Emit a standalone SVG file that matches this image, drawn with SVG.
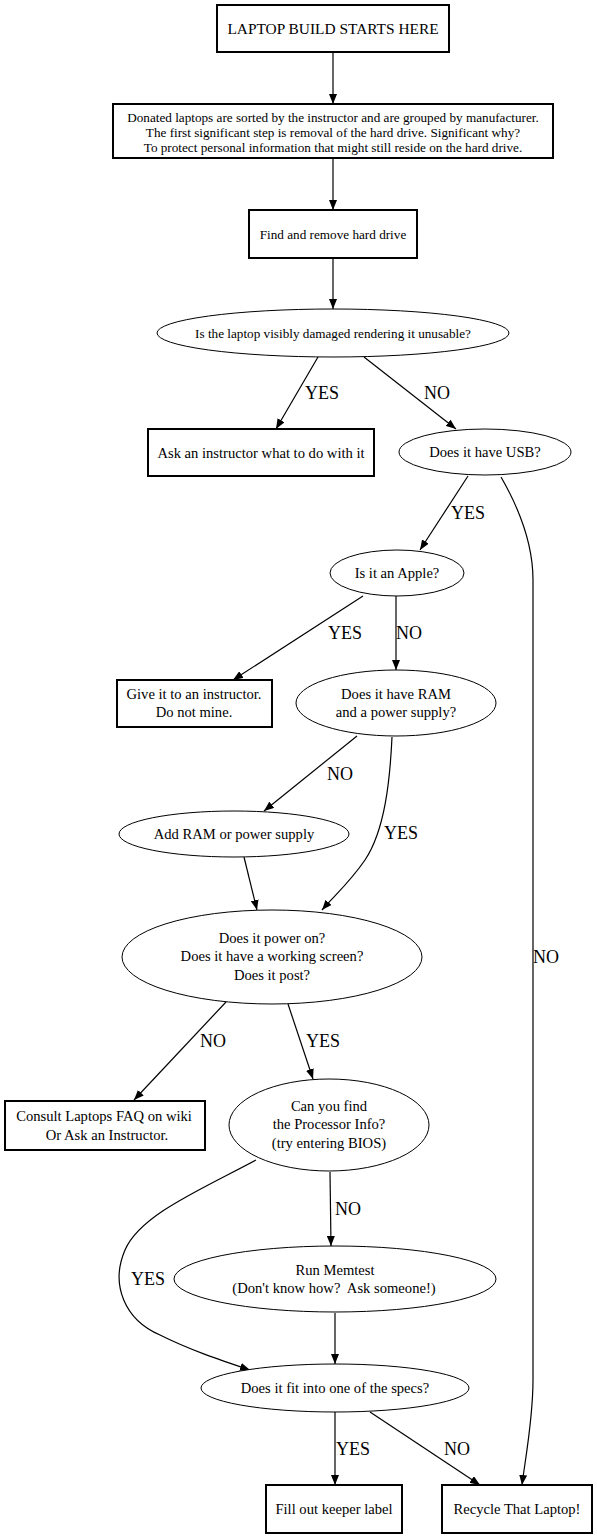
<svg xmlns="http://www.w3.org/2000/svg" width="597" height="1539" viewBox="0 0 597 1539">
<defs>
<marker id="ah" markerWidth="10" markerHeight="8" refX="10" refY="4" orient="auto" markerUnits="userSpaceOnUse">
<path d="M0,0 L10,4 L0,8 Z" fill="#000"/>
</marker>
<style>
.box{fill:#fff;stroke:#000;stroke-width:2}
.ell{fill:#fff;stroke:#000;stroke-width:1}
.t{font-family:"Liberation Serif","Times New Roman",serif;fill:#000;text-anchor:middle}
.s10{font-size:13.2px}
.s12{font-size:14.6px}
.s13{font-size:15.4px}
.lbl{font-family:"Liberation Serif","Times New Roman",serif;font-size:18px;fill:#000}
.e{fill:none;stroke:#000;stroke-width:1.2;marker-end:url(#ah)}
</style>
</defs>
<rect width="597" height="1539" fill="#fff"/>
<g id="edges">
<path class="e" d="M333,52 L333,104"/>
<path class="e" d="M333,158 L333,210"/>
<path class="e" d="M333,258 L333,309"/>
<path class="e" d="M318,357 L276,429"/>
<path class="e" d="M364,357 L456,429"/>
<path class="e" d="M468,476 L420,550"/>
<path class="e" d="M501,477 C520,510 533,545 533,580 L533,1380 C533,1420 525,1460 522,1485"/>
<path class="e" d="M363,596 L233,680"/>
<path class="e" d="M396,596 L396,670"/>
<path class="e" d="M357,736 L264,811"/>
<path class="e" d="M392,737 C390,780 385,830 365,860 C350,882 335,895 322,910"/>
<path class="e" d="M244,857 L257,910"/>
<path class="e" d="M226,1002 L134,1100"/>
<path class="e" d="M288,1004 L313,1079"/>
<path class="e" d="M330,1172 L331,1246"/>
<path class="e" d="M256,1160 C200,1190 140,1215 125,1250 C110,1285 125,1320 160,1335 C190,1350 220,1360 250,1370"/>
<path class="e" d="M335,1313 L335,1364"/>
<path class="e" d="M335,1412 L335,1485"/>
<path class="e" d="M370,1412 L480,1485"/>
<text class="lbl" x="305" y="399">YES</text>
<text class="lbl" x="424" y="399">NO</text>
<text class="lbl" x="451" y="519">YES</text>
<text class="lbl" x="533" y="963">NO</text>
<text class="lbl" x="328" y="639">YES</text>
<text class="lbl" x="396" y="639">NO</text>
<text class="lbl" x="327" y="780">NO</text>
<text class="lbl" x="384" y="839">YES</text>
<text class="lbl" x="200" y="1047">NO</text>
<text class="lbl" x="306" y="1047">YES</text>
<text class="lbl" x="335" y="1215">NO</text>
<text class="lbl" x="131" y="1285">YES</text>
<text class="lbl" x="336" y="1455">YES</text>
<text class="lbl" x="444" y="1455">NO</text>
</g>
<g id="n1"><rect class="box" x="217" y="5" width="232" height="47"/><text class="t s13" x="333" y="34">LAPTOP BUILD STARTS HERE</text></g>
<g id="n2"><rect class="box" x="113" y="104" width="440" height="54"/>
<text class="t s10" x="333" y="122">Donated laptops are sorted by the instructor and are grouped by manufacturer.</text>
<text class="t s10" x="333" y="137">The first significant step is removal of the hard drive. Significant why?</text>
<text class="t s10" x="333" y="152">To protect personal information that might still reside on the hard drive.</text></g>
<g id="n3"><rect class="box" x="249" y="210" width="168" height="48"/><text class="t s10" x="333" y="239">Find and remove hard drive</text></g>
<g id="n4"><ellipse class="ell" cx="333" cy="333" rx="176" ry="24"/><text class="t s10" x="333" y="338">Is the laptop visibly damaged rendering it unusable?</text></g>
<g id="n5"><rect class="box" x="148" y="429" width="226" height="47"/><text class="t s12" x="261" y="458">Ask an instructor what to do with it</text></g>
<g id="n6"><ellipse class="ell" cx="485" cy="452" rx="86" ry="23"/><text class="t s12" x="485" y="457">Does it have USB?</text></g>
<g id="n7"><ellipse class="ell" cx="397" cy="573" rx="67" ry="23"/><text class="t s12" x="397" y="578">Is it an Apple?</text></g>
<g id="n8"><rect class="box" x="117" y="680" width="155" height="47"/><text class="t s12" x="194" y="699">Give it to an instructor.</text><text class="t s12" x="194" y="717">Do not mine.</text></g>
<g id="n9"><ellipse class="ell" cx="396" cy="703" rx="100" ry="33"/><text class="t s12" x="396" y="699">Does it have RAM</text><text class="t s12" x="396" y="717">and a power supply?</text></g>
<g id="n10"><ellipse class="ell" cx="234" cy="834" rx="115" ry="23"/><text class="t s12" x="234" y="839">Add RAM or power supply</text></g>
<g id="n11"><ellipse class="ell" cx="272" cy="957" rx="150" ry="47"/><text class="t s12" x="272" y="943">Does it power on?</text><text class="t s12" x="272" y="961">Does it have a working screen?</text><text class="t s12" x="272" y="980">Does it post?</text></g>
<g id="n12"><rect class="box" x="5" y="1101" width="200" height="49"/><text class="t s12" x="104" y="1121">Consult Laptops FAQ on wiki</text><text class="t s12" x="107" y="1140">Or Ask an Instructor.</text></g>
<g id="n13"><ellipse class="ell" cx="329" cy="1125" rx="100" ry="46"/><text class="t s12" x="329" y="1111">Can you find</text><text class="t s12" x="329" y="1129">the Processor Info?</text><text class="t s12" x="329" y="1148">(try entering BIOS)</text></g>
<g id="n14"><ellipse class="ell" cx="335" cy="1279" rx="161" ry="33"/><text class="t s12" x="335" y="1275">Run Memtest</text><text class="t s12" x="334" y="1293" xml:space="preserve">(Don't know how?  Ask someone!)</text></g>
<g id="n15"><ellipse class="ell" cx="335" cy="1388" rx="134" ry="24"/><text class="t s12" x="335" y="1393">Does it fit into one of the specs?</text></g>
<g id="n16"><rect class="box" x="266" y="1485" width="136" height="48"/><text class="t s12" x="334" y="1514">Fill out keeper label</text></g>
<g id="n17"><rect class="box" x="442" y="1485" width="150" height="48"/><text class="t s12" x="517" y="1514">Recycle That Laptop!</text></g>
</svg>
